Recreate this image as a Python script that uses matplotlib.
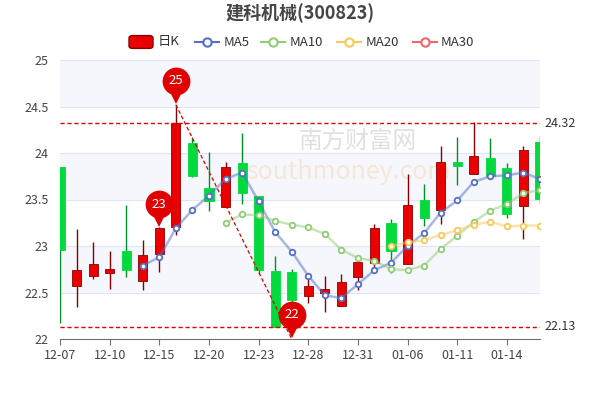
import matplotlib
matplotlib.use("Agg")
import matplotlib.pyplot as plt
import matplotlib.transforms as mtrans
from matplotlib.patches import FancyBboxPatch
import numpy as np

plt.rcParams['font.family'] = ['Noto Sans CJK SC', 'DejaVu Sans']

dates = ['12-07','12-08','12-09','12-10','12-13','12-14','12-15','12-16','12-17','12-20',
         '12-21','12-22','12-23','12-24','12-27','12-28','12-29','12-30','12-31','01-04',
         '01-05','01-06','01-07','01-10','01-11','01-12','01-13','01-14','01-17','01-18']
opens  = [23.85,22.57,22.68,22.71,22.95,22.62,22.91,23.20,24.11,23.62,23.42,23.89,23.54,22.73,22.72,
          22.46,22.50,22.35,22.67,22.82,23.25,22.81,23.49,23.39,23.90,23.77,23.95,23.84,23.43,24.12]
closes = [22.96,22.74,22.81,22.75,22.74,22.90,23.19,24.32,23.75,23.48,23.85,23.57,22.74,22.13,22.42,
          22.57,22.54,22.61,22.83,23.19,22.95,23.44,23.30,23.90,23.86,23.97,23.75,23.34,24.03,23.51]
highs  = [23.85,23.18,23.04,22.95,23.44,23.06,23.20,24.52,24.17,24.01,23.90,24.22,23.54,22.89,22.75,
          22.64,22.68,22.70,22.89,23.24,23.29,23.77,23.67,24.07,24.17,24.33,24.16,23.89,24.07,24.19]
lows   = [22.17,22.34,22.65,22.54,22.67,22.53,22.72,23.12,23.74,23.38,23.42,23.45,22.70,22.13,22.20,
          22.39,22.29,22.35,22.53,22.76,22.71,22.81,23.22,23.24,23.66,23.77,23.75,23.30,23.08,23.45]
ma5  = [None,None,None,None,None,22.79,22.88,23.19,23.39,23.54,23.72,23.79,23.48,23.15,22.94,
        22.68,22.47,22.44,22.59,22.74,22.82,23.00,23.14,23.36,23.49,23.69,23.75,23.76,23.79,23.72]
ma10 = [None]*10 + [23.25,23.34,23.33,23.27,23.23,23.20,23.13,22.96,22.87,22.84,
                    22.75,22.74,22.79,22.97,23.11,23.26,23.38,23.45,23.57,23.60]
ma20 = [None]*20 + [23.00,23.04,23.06,23.12,23.17,23.23,23.26,23.21,23.22,23.22]
tick_idx = [0,3,6,9,12,15,18,21,24,27]
max_line, min_line = 24.32, 22.13

UP, DOWN = '#EB0000', '#00DA3C'
fig = plt.figure(figsize=(6,4), dpi=100)
ax = fig.add_axes([0.1, 0.1525, 0.8, 0.6975])
n = len(dates)
ax.set_xlim(0, n-1)
ax.set_ylim(22, 25)
for b in [22.5, 23.5, 24.5]:
    ax.axhspan(b, b+0.5, color='#F5F7FC', zorder=0, lw=0)
for v in np.arange(22.5, 25.01, 0.5):
    ax.axhline(v, color='#E0E6F1', lw=0.8, zorder=0.5)

for i in range(n):
    up = closes[i] >= opens[i]
    c = UP if up else DOWN
    ec = '#8A0000' if up else '#008F28'
    ax.vlines(i, lows[i], highs[i], color=ec, lw=1, zorder=2)
    lo, hi = min(opens[i], closes[i]), max(opens[i], closes[i])
    ax.bar(i, max(hi-lo, 0.01), bottom=lo, width=0.55, color=c, edgecolor=ec if up else c, lw=0.6, zorder=3)

def plot_ma(vals, col):
    xs = [i for i, v in enumerate(vals) if v is not None]
    ys = [v for v in vals if v is not None]
    ax.plot(xs, ys, color=col, alpha=0.5, lw=1.8, zorder=4)
    ax.plot(xs, ys, 'o', mfc='white', mec=col, ms=4, mew=1.3, zorder=5)
plot_ma(ma5, '#5470C6')
plot_ma(ma10, '#91CC75')
plot_ma(ma20, '#FAC858')

for v in (max_line, min_line):
    ax.axhline(v, color='#E00000', ls=(0,(3,2)), lw=1, zorder=6)
    ax.text(n-1+0.25, v, f'{v:.2f}', va='center', ha='left', fontsize=9, color='#333333', clip_on=False)

pins = [(7, 24.52, '25'), (6, 23.19, '23'), (14, 22.0, '22')]
ax.plot([7, 14], [24.52, 22.0], color='#E00000', ls=(0,(3,2)), lw=0.9, zorder=6)
for px, py, lab in pins:
    t1 = mtrans.offset_copy(ax.transData, fig=fig, x=0, y=24, units='dots')
    t2 = mtrans.offset_copy(ax.transData, fig=fig, x=0, y=9, units='dots')
    ax.plot(px, py, 'v', ms=11, color='#E00000', mew=0, transform=t2, zorder=8, clip_on=False)
    ax.plot(px, py, 'o', ms=20, color='#E00000', mew=0, transform=t1, zorder=8, clip_on=False)
    ax.text(px, py, lab, transform=t1, color='white', ha='center', va='center', fontsize=9.5, zorder=9)

ax.text(0.62, 0.71, '南方财富网', transform=ax.transAxes, fontsize=17, color='#C8C8C8', alpha=0.55, ha='center', va='center', zorder=1)
ax.text(0.6, 0.6, 'southmoney.com', transform=ax.transAxes, fontsize=18, color='#F5D5A8', alpha=0.45, style='italic', ha='center', va='center', zorder=1)

ax.set_xticks(tick_idx)
ax.set_xticklabels([dates[i] for i in tick_idx], fontsize=9, color='#444444')
ax.set_yticks(np.arange(22, 25.01, 0.5))
ax.set_yticklabels(['22','22.5','23','23.5','24','24.5','25'], fontsize=9, color='#444444')
ax.tick_params(axis='y', length=0, pad=8)
ax.tick_params(axis='x', length=4, color='#6E7079')
for s in ['top','right','left']:
    ax.spines[s].set_visible(False)
ax.spines['bottom'].set_color('#6E7079')

fig.text(0.5, 0.968, '建科机械(300823)', ha='center', va='center', fontsize=13, fontweight='bold', color='#464646')

ly = 0.895
fig.patches.append(FancyBboxPatch((0.215, ly-0.016), 0.04, 0.032, boxstyle='round,pad=0,rounding_size=0.006',
                                  transform=fig.transFigure, fc=UP, ec='#8A0000', lw=1))
fig.text(0.262, ly, '日K', va='center', fontsize=9.5, color='#333333')
items = [('MA5', '#5470C6', 0.325), ('MA10', '#91CC75', 0.435), ('MA20', '#FAC858', 0.562), ('MA30', '#EE6666', 0.688)]
for lab, col, lx in items:
    fig.lines.append(plt.Line2D([lx, lx+0.04], [ly, ly], transform=fig.transFigure, color=col, lw=1.5))
    fig.lines.append(plt.Line2D([lx+0.02], [ly], transform=fig.transFigure, marker='o', mfc='white', mec=col, ms=6, mew=1.5))
    fig.text(lx+0.047, ly, lab, va='center', fontsize=9.5, color='#333333')

fig.savefig('out.png', dpi=100)
